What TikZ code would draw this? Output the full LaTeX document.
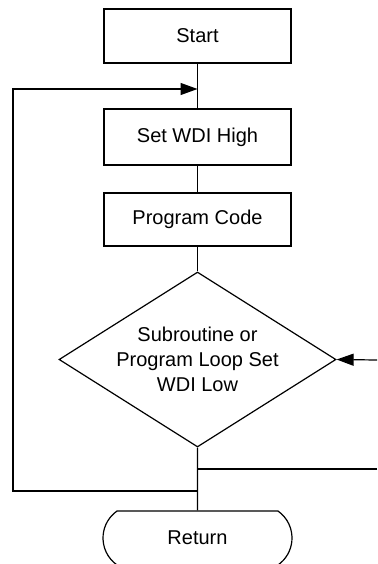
\documentclass[tikz,border=0pt]{standalone}
\usepackage{fontspec}
\setmainfont{Liberation Sans}
\usetikzlibrary{shapes.geometric,shapes.misc,arrows.meta}
\tikzset{
  box/.style={draw,minimum width=187pt,minimum height=54pt,inner sep=0pt},
  decision/.style={draw,diamond,aspect=1.583,minimum width=277pt,minimum height=175pt,inner sep=0pt,align=center},
  terminal/.style={draw,rounded rectangle,rounded rectangle arc length=110,minimum width=189pt,minimum height=54pt,inner sep=0pt},
  flow/.style={-{Triangle[length=17pt,width=12pt]}}
}
\begin{document}
\begin{tikzpicture}[x=1pt,y=-1pt,line width=1.2pt,font=\fontsize{20}{25}\selectfont]
\useasboundingbox (0,0) rectangle (377,564);
\node[box] (start) at (197.5,36) {Start};
\node[box,minimum height=56pt] (setwdi) at (197.5,137) {Set WDI High};
\node[box,minimum height=53pt] (code) at (197.5,219.5) {Program Code};
\node[decision] (check) at (197.5,359.5) {Subroutine or\\Program Loop Set\\WDI Low};
\node[terminal] (ret) at (197.5,538) {Return};
\coordinate (loopin) at (197.5,89);
\coordinate (loopout) at (197.5,491);
\coordinate (entry) at (377,360);
\coordinate (exit) at (377,469);
\draw (start) -- (setwdi);
\draw (setwdi) -- (code);
\draw (code) -- (check);
\draw (check) -- (ret);
\draw[flow] (loopout) -- ++(-184.5,0) |- (loopin);
\draw[flow] (entry) -- (check.east);
\draw (exit) -- (check.south |- exit);
\end{tikzpicture}
\end{document}
